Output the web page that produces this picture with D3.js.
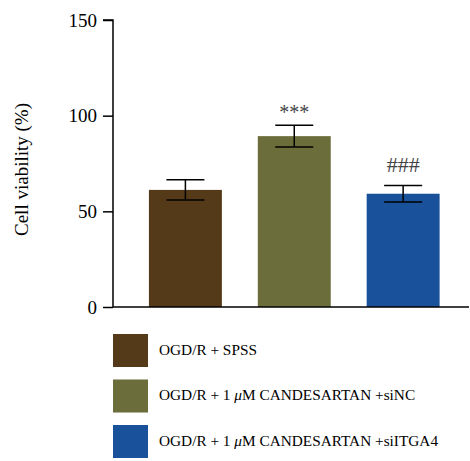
<!DOCTYPE html>
<html>
<head>
<meta charset="utf-8">
<script src="https://cdn.jsdelivr.net/npm/d3@7"></script>
<style>
  body { margin: 0; background: #fff; }
  svg text { font-family: "Liberation Serif", "DejaVu Serif", serif !important; }
</style>
</head>
<body>
<div class="chart"></div>
<script>
const width = 470;
const height = 461;

// data
const groups = ['OGD/R + SPSS', 'OGD/R + 1 μM CANDESARTAN +siNC', 'OGD/R + 1 μM CANDESARTAN +siITGA4'];
const means = [61.2, 89.3, 59.2];
const errors = [5.3, 5.7, 4.3];
const marks = ['', '***', '###'];
const colors = ['#553a1a', '#6b6e3b', '#19529a'];
const yTicks = [0, 50, 100, 150];

const svg = d3.select('.chart').append('svg')
    .attr('width', width)
    .attr('height', height)
    .attr('viewBox', `0 0 ${width} ${height}`)
    .style('display', 'block');

/*      scales      */
const yScale = d3.scaleLinear()
    .domain([0, 150])
    .range([307, 20]);
const xScale = d3.scaleBand()
    .domain(groups)
    .range([113, 469])
    .paddingInner(0.33)
    .paddingOuter(0.3)
    .align(0.55);

/*      bars      */
svg.append('g').selectAll('rect')
    .data(groups)
    .enter()
    .append('rect')
    .attr('x', d => xScale(d))
    .attr('y', (d, i) => yScale(means[i]))
    .attr('width', xScale.bandwidth())
    .attr('height', (d, i) => yScale(0) - yScale(means[i]))
    .attr('fill', (d, i) => colors[i]);

/*      error bars      */
const capHalf = 19;
const err = svg.append('g')
    .attr('stroke', '#000')
    .attr('stroke-width', 1.5);
groups.forEach((g, i) => {
    const cx = xScale(g) + xScale.bandwidth() / 2;
    const hi = yScale(means[i] + errors[i]);
    const lo = yScale(means[i] - errors[i]);
    err.append('line').attr('x1', cx).attr('x2', cx).attr('y1', hi).attr('y2', lo);
    err.append('line').attr('x1', cx - capHalf).attr('x2', cx + capHalf).attr('y1', hi).attr('y2', hi);
    err.append('line').attr('x1', cx - capHalf).attr('x2', cx + capHalf).attr('y1', lo).attr('y2', lo);
});

/*      significance marks      */
svg.append('g').selectAll('text')
    .data(groups)
    .enter()
    .append('text')
    .attr('x', d => xScale(d) + xScale.bandwidth() / 2)
    .attr('y', (d, i) => yScale(means[i] + errors[i]) - (marks[i] === '***' ? 6 : 14))
    .attr('text-anchor', 'middle')
    .attr('font-size', (d, i) => marks[i] === '***' ? 20 : 22)
    .attr('fill', '#444')
    .text((d, i) => marks[i]);

/*      axes      */
const yAxis = d3.axisLeft(yScale).tickValues(yTicks).tickSize(10).tickPadding(6);
const gy = svg.append('g')
    .attr('transform', 'translate(113,0)')
    .call(yAxis);
gy.select('.domain').attr('stroke-width', 1.5).attr('d', `M-10,${yScale(150)}H0V${yScale(0)}`);
gy.selectAll('.tick line').attr('stroke-width', 1.5);
gy.selectAll('.tick text')
    .attr('font-size', 19)
    .attr('fill', '#000');

svg.append('line')
    .attr('x1', 113).attr('x2', 469)
    .attr('y1', yScale(0)).attr('y2', yScale(0))
    .attr('stroke', '#000')
    .attr('stroke-width', 1.5);

svg.append('text')
    .attr('transform', `translate(28,${(yScale(0) + yScale(150)) / 2 + 6}) rotate(-90)`)
    .attr('text-anchor', 'middle')
    .attr('font-size', 19)
    .attr('fill', '#000')
    .text('Cell viability (%)');

/*      legend      */
const legend = svg.append('g').selectAll('g')
    .data(groups)
    .enter()
    .append('g')
    .attr('transform', (d, i) => `translate(113,${334 + i * 45.5})`);
legend.append('rect')
    .attr('width', 35)
    .attr('height', 33)
    .attr('fill', (d, i) => colors[i]);
legend.append('text')
    .attr('x', 46)
    .attr('y', 20.5)
    .attr('font-size', 15.3)
    .attr('fill', '#000')
    .each(function (d) {
        const t = d3.select(this);
        const parts = d.split('μ');
        t.append('tspan').text(parts[0]);
        if (parts.length > 1) {
            t.append('tspan').attr('font-style', 'italic').text('μ');
            t.append('tspan').text(parts[1]);
        }
    });
</script>
</body>
</html>
